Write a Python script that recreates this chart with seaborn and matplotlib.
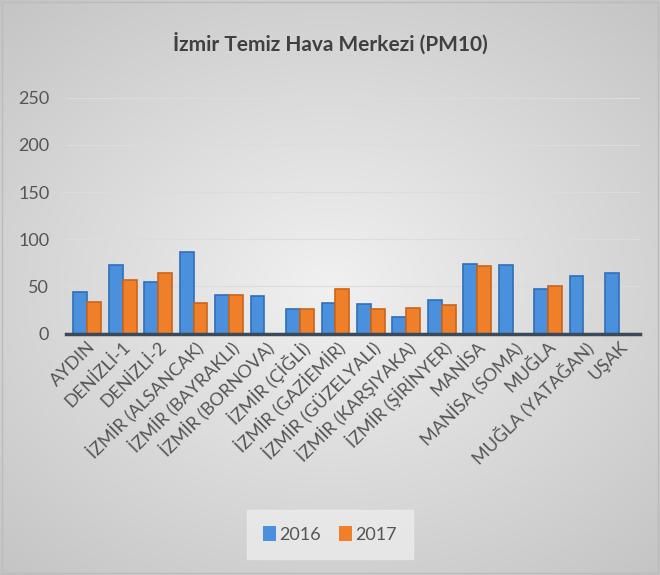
import matplotlib.pyplot as plt
import numpy as np
import pandas as pd
import seaborn as sns

stations = ['AYDIN', 'DENİZLİ-1', 'DENİZLİ-2', 'İZMİR (ALSANCAK)', 'İZMİR (BAYRAKLI)',
            'İZMİR (BORNOVA)', 'İZMİR (ÇİĞLİ)', 'İZMİR (GAZİEMİR)', 'İZMİR (GÜZELYALI)',
            'İZMİR (KARŞIYAKA)', 'İZMİR (ŞİRİNYER)', 'MANİSA', 'MANİSA (SOMA)', 'MUĞLA',
            'MUĞLA (YATAĞAN)', 'UŞAK']
pm10_2016 = [44, 73, 55, 86, 41, 40, 26, 32, 31, 17, 36, 74, 73, 47, 61, 64]
pm10_2017 = [33, 57, 64, 32, 41, 0, 26, 47, 26, 27, 30, 72, 0, 50, 0, 0]
years = ['2016', '2017']

df = pd.DataFrame({
    'station': stations * 2,
    'value': pm10_2016 + pm10_2017,
    'year': [years[0]] * len(stations) + [years[1]] * len(stations),
})

sns.set_style('white')
plt.rcParams['font.family'] = ['Lato', 'DejaVu Sans']

fig = plt.figure(figsize=(6.6, 5.75), dpi=100)

# soft radial gray background like the Excel chart area
bg = fig.add_axes([0, 0, 1, 1], zorder=-10)
yy, xx = np.mgrid[-1:1:200j, -1:1:200j]
r = np.sqrt(xx ** 2 + (yy * 1.1) ** 2)
bg.imshow(r, cmap=sns.light_palette('#c4c4c4', as_cmap=True, reverse=False),
          vmin=0, vmax=1.5, aspect='auto', extent=[0, 1, 0, 1])
bg.axis('off')

ax = fig.add_axes([0.1, 0.42, 0.87, 0.41])
ax.set_facecolor('none')

sns.barplot(data=df, x='station', y='value', hue='year',
            palette=['#4a90dd', '#f07f2a'], saturation=1, width=0.78, ax=ax,
            linewidth=0)
for bar, c in zip(ax.patches, ['#2f6fb8'] * 16 + ['#c9651c'] * 16):
    bar.set_edgecolor(c)
    bar.set_linewidth(1.2)

ax.set_ylim(0, 250)
ax.set_yticks(range(0, 251, 50))
ax.yaxis.grid(True, color='#dcdcdc', linewidth=0.8)
ax.set_axisbelow(True)
for s in ['top', 'right', 'left']:
    ax.spines[s].set_visible(False)
ax.spines['bottom'].set_color('#3a4a5a')
ax.spines['bottom'].set_linewidth(2.5)
ax.set_xlim(-0.6, len(stations) - 0.4)
ax.tick_params(axis='both', length=0, colors='#555555', labelsize=13)
ax.tick_params(axis='y', pad=12)
ax.set_xticks(range(len(stations)))
ax.set_xticklabels(stations, rotation=45, ha='right', rotation_mode='anchor')
ax.set_xlabel('')
ax.set_ylabel('')

fig.text(0.5, 0.925, 'İzmir Temiz Hava Merkezi (PM10)', ha='center', va='center',
         fontsize=15, fontweight='bold', color='#404040')

leg = ax.legend(loc='center', bbox_to_anchor=(0.5, 0.07), bbox_transform=fig.transFigure,
                ncol=2, frameon=True, fontsize=13, handlelength=0.7, handleheight=0.9,
                handletextpad=0.2, columnspacing=1.0, borderpad=0.6)
leg.get_frame().set_facecolor('#ececec')
leg.get_frame().set_edgecolor('#ececec')
leg.get_frame().set_boxstyle('square')
for t in leg.get_texts():
    t.set_color('#555555')

fig.patches.append(plt.Rectangle((0.003, 0.003), 0.994, 0.994, transform=fig.transFigure,
                                 fill=False, edgecolor='#bbbbbb', linewidth=1))

fig.savefig('out.png', dpi=100)
